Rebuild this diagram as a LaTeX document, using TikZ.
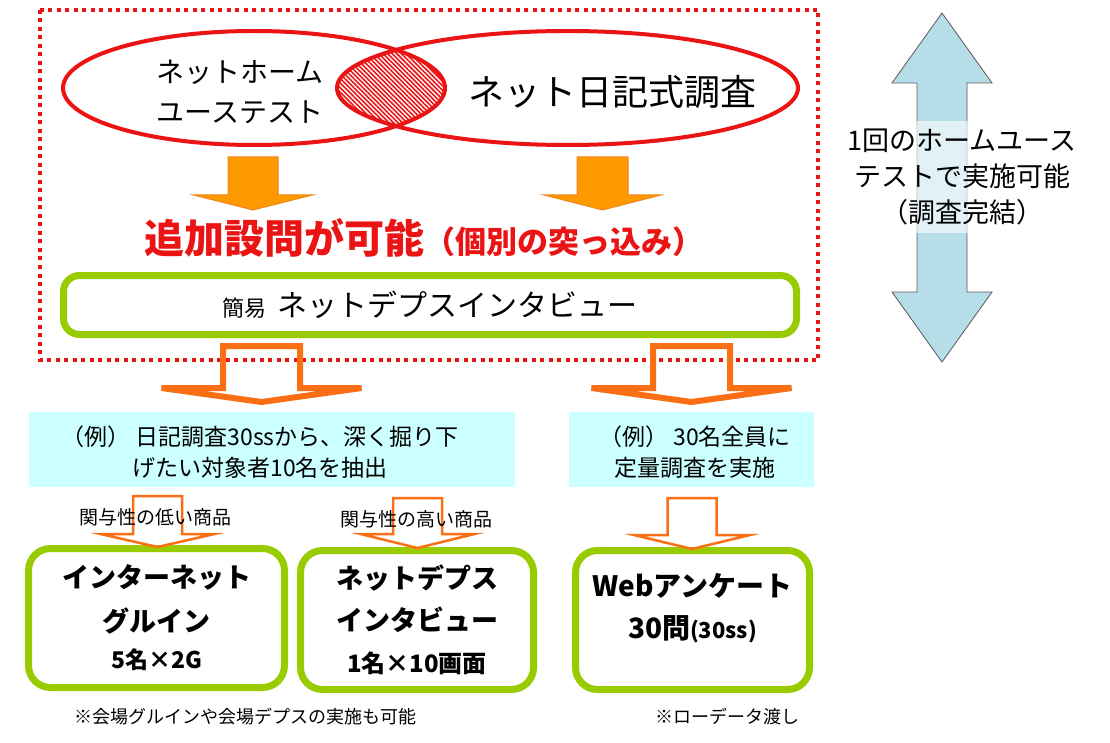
\documentclass[tikz,border=0pt]{standalone}
\usepackage{fontspec}
\setmainfont{Noto Sans CJK JP}
\usetikzlibrary{patterns.meta}

\definecolor{vennred}{RGB}{235,20,20}
\definecolor{leaf}{RGB}{153,204,0}
\definecolor{pale}{RGB}{204,255,255}
\definecolor{amber}{RGB}{255,153,0}
\definecolor{amberline}{RGB}{240,135,30}
\definecolor{rust}{RGB}{250,110,20}
\definecolor{steel}{RGB}{183,221,232}
\definecolor{edge}{RGB}{90,90,90}

\newcommand{\blockdown}[7]{\draw[#1] (#2-#4,#3) -- (#2+#4,#3) -- (#2+#4,#6) -- (#2+#5,#6) -- (#2,#7) -- (#2-#5,#6) -- (#2-#4,#6) -- cycle;}

\begin{document}
\begin{tikzpicture}[x=1pt, y=-1pt,
    greenbox/.style = {draw=leaf, line width=7, fill=white, align=center},
    palebox/.style = {fill=pale, inner sep=0},
    solidarr/.style = {fill=amber, draw=amberline, line width=1},
    hollowarr/.style = {draw=rust, line width=6},
    thinarr/.style = {draw=rust, line width=2.5},
    note/.style = {font=\fontsize{18}{22}\selectfont}]
	\useasboundingbox (0,0) rectangle (1110,743);
	\fill[white] (0,0) rectangle (1110,743);

	\begin{scope}
		\clip (254,88) ellipse [x radius=191pt, y radius=57pt];
		\fill[white] (567.5,88) ellipse [x radius=230.5pt, y radius=57pt];
		\fill[pattern={Lines[angle=-45, distance=3.2pt, line width=1.6pt]}, pattern color=vennred] (567.5,88) ellipse [x radius=230.5pt, y radius=57pt];
	\end{scope}
	\draw[vennred, line width=4] (254,88) ellipse [x radius=191pt, y radius=57pt];
	\draw[vennred, line width=4] (567.5,88) ellipse [x radius=230.5pt, y radius=57pt];
	\node[align=center, font=\fontsize{28}{40}\selectfont] (home) at (240,92) {ネットホーム\\ユーステスト};
	\node[font=\fontsize{36}{40}\selectfont] (diary) at (612,92) {ネット日記式調査};

	\blockdown{solidarr}{253}{157}{25}{59.5}{195}{210}
	\blockdown{solidarr}{602.5}{157}{25.5}{58.5}{195}{210}

	\node[text=vennred, font=\bfseries\fontsize{40}{44}\selectfont] (extra) at (424,238) {追加設問が可能{\fontsize{31}{36}\selectfont （個別の突っ込み）}};
	\node[greenbox, rounded corners=16, minimum width=733, minimum height=59, font=\fontsize{30}{36}\selectfont] (quick) at (430,305) {{\fontsize{22}{26}\selectfont 簡易}\hspace{4pt} ネットデプスインタビュー};

	\draw[vennred, line width=4, dash pattern=on 4pt off 4.5pt] (40,10) rectangle (818,360);

	\blockdown{hollowarr}{261.5}{346}{38.5}{100}{388}{402}
	\blockdown{hollowarr}{691.5}{346}{38.5}{100}{388}{402}

	\node[palebox, minimum width=486, minimum height=75] (pick) at (272,449.5) {};
	\node[align=center, font=\fontsize{23}{31}\selectfont] (picktext) at (260,452) {（例） 日記調査30ssから、深く掘り下\\げたい対象者10名を抽出};
	\node[palebox, minimum width=245, minimum height=75] (all) at (691.5,449.5) {};
	\node[align=center, font=\fontsize{23}{31}\selectfont] (alltext) at (695,452) {（例） 30名全員に\\定量調査を実施};

	\node[greenbox, rounded corners=22, minimum width=256, minimum height=139, font=\bfseries\fontsize{27}{44}\selectfont] (groupint) at (156.5,618) {インターネット\\グルイン\\[-7pt]{\fontsize{23}{36}\selectfont 5名×2G}};
	\node[greenbox, rounded corners=22, minimum width=233, minimum height=139, font=\bfseries\fontsize{27}{42}\selectfont] (depth) at (417,620) {ネットデプス\\インタビュー\\{\fontsize{24}{36}\selectfont 1名×10画面}};
	\node[greenbox, rounded corners=22, minimum width=234, minimum height=139, font=\bfseries\fontsize{28}{42}\selectfont] (web) at (692.5,620) {Webアンケート\\30問{\fontsize{22}{36}\selectfont (30ss)}\\[-14pt] \mbox{}};

	\blockdown{thinarr}{157.5}{496}{24.5}{57}{534}{547}
	\blockdown{thinarr}{417.5}{498}{24.5}{57}{534}{548}
	\blockdown{thinarr}{692}{498}{24.5}{58}{535}{549}
	\node[font=\fontsize{19}{22}\selectfont] (low) at (155,517) {関与性の低い商品};
	\node[font=\fontsize{19}{22}\selectfont] (high) at (416,519) {関与性の高い商品};

	\node[note] (venue) at (245,717) {※会場グルインや会場デプスの実施も可能};
	\node[note] (raw) at (727,717) {※ローデータ渡し};

	\draw[fill=steel, draw=edge, line width=0.8] (942,13) -- (992,83) -- (967,83) -- (967,292) -- (992,292) -- (942,362) -- (892,292) -- (917,292) -- (917,83) -- (892,83) -- cycle;
	\node[fill=white, fill opacity=0.6, text opacity=1, align=center, inner ysep=8, font=\fontsize{27}{36}\selectfont] (once) at (962,177) {1回のホームユース\\テストで実施可能\\（調査完結）};
\end{tikzpicture}
\end{document}
